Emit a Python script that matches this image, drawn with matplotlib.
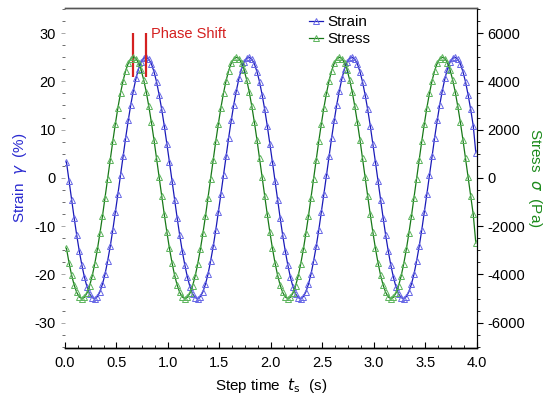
import numpy as np
import matplotlib
matplotlib.use('Agg')
import matplotlib.pyplot as plt
from matplotlib.ticker import MultipleLocator

plt.rcParams['font.family'] = ['Liberation Sans', 'DejaVu Sans']
plt.rcParams['mathtext.fontset'] = 'dejavusans'
plt.rcParams['axes.unicode_minus'] = False

# sampling of the step time (s)
t_start = 0.015
t_step = 0.025

# strain (%), one line per cycle
strain = [
    3.3, -0.6, -4.5, -8.3, -11.9, -15.2, -18.1, -20.6, -22.6, -24.0,
    -24.8, -25.0, -24.6, -23.6, -22.0, -19.9, -17.2, -14.2, -10.8, -7.1,
    -3.3, 0.6, 4.5, 8.3, 11.9, 15.2, 18.1, 20.6, 22.6, 24.0,
    24.8, 25.0, 24.6, 23.6, 22.0, 19.9, 17.2, 14.2, 10.8, 7.1,
    3.3, -0.6, -4.5, -8.3, -11.9, -15.2, -18.1, -20.6, -22.6, -24.0,
    -24.8, -25.0, -24.6, -23.6, -22.0, -19.9, -17.2, -14.2, -10.8, -7.1,
    -3.3, 0.6, 4.5, 8.3, 11.9, 15.2, 18.1, 20.6, 22.6, 24.0,
    24.8, 25.0, 24.6, 23.6, 22.0, 19.9, 17.2, 14.2, 10.8, 7.1,
    3.3, -0.6, -4.5, -8.3, -11.9, -15.2, -18.1, -20.6, -22.6, -24.0,
    -24.8, -25.0, -24.6, -23.6, -22.0, -19.9, -17.2, -14.2, -10.8, -7.1,
    -3.3, 0.6, 4.5, 8.3, 11.9, 15.2, 18.1, 20.6, 22.6, 24.0,
    24.8, 25.0, 24.6, 23.6, 22.0, 19.9, 17.2, 14.2, 10.8, 7.1,
    3.3, -0.6, -4.5, -8.3, -11.9, -15.2, -18.1, -20.6, -22.6, -24.0,
    -24.8, -25.0, -24.6, -23.6, -22.0, -19.9, -17.2, -14.2, -10.8, -7.1,
    -3.3, 0.6, 4.5, 8.3, 11.9, 15.2, 18.1, 20.6, 22.6, 24.0,
    24.8, 25.0, 24.6, 23.6, 22.0, 19.9, 17.2, 14.2, 10.8, 5.2,
]

# stress (Pa)
stress = [
    -2914, -3513, -4027, -4441, -4745, -4933, -5000, -4943, -4765, -4469,
    -4064, -3558, -2964, -2298, -1575, -813, -31, 751, 1515, 2242,
    2914, 3513, 4027, 4441, 4745, 4933, 5000, 4943, 4765, 4469,
    4064, 3558, 2964, 2298, 1575, 813, 31, -751, -1515, -2242,
    -2914, -3513, -4027, -4441, -4745, -4933, -5000, -4943, -4765, -4469,
    -4064, -3558, -2964, -2298, -1575, -813, -31, 751, 1515, 2242,
    2914, 3513, 4027, 4441, 4745, 4933, 5000, 4943, 4765, 4469,
    4064, 3558, 2964, 2298, 1575, 813, 31, -751, -1515, -2242,
    -2914, -3513, -4027, -4441, -4745, -4933, -5000, -4943, -4765, -4469,
    -4064, -3558, -2964, -2298, -1575, -813, -31, 751, 1515, 2242,
    2914, 3513, 4027, 4441, 4745, 4933, 5000, 4943, 4765, 4469,
    4064, 3558, 2964, 2298, 1575, 813, 31, -751, -1515, -2242,
    -2914, -3513, -4027, -4441, -4745, -4933, -5000, -4943, -4765, -4469,
    -4064, -3558, -2964, -2298, -1575, -813, -31, 751, 1515, 2242,
    2914, 3513, 4027, 4441, 4745, 4933, 5000, 4943, 4765, 4469,
    4064, 3558, 2964, 2298, 1575, 813, 31, -751, -1515, -2700,
]

# peaks marked as "Phase Shift"
peak_stress_t = 0.66
peak_strain_t = 0.787

t = t_start + t_step * np.arange(len(strain))

blue_line, blue_mark = '#1a1ab8', '#6767e6'
green_line, green_mark = '#187818', '#5cb45c'

fig = plt.figure(figsize=(5.5, 3.98), dpi=100)
ax = fig.add_axes([0.118, 0.126, 0.749, 0.854])
ax2 = ax.twinx()

l1, = ax.plot(t, strain, '-', color=blue_line, lw=0.9,
              marker='^', ms=4, mfc='none', mec=blue_mark, mew=0.7)
l2, = ax2.plot(t, stress, '-', color=green_line, lw=0.9,
               marker='^', ms=4, mfc='none', mec=green_mark, mew=0.7)

ax.set_xlim(0, 4.0)
ax.set_ylim(-35.2, 35.2)
ax2.set_ylim(-7040, 7040)

ax.xaxis.set_major_locator(MultipleLocator(0.5))
ax.xaxis.set_minor_locator(MultipleLocator(0.125))
ax.yaxis.set_major_locator(MultipleLocator(10))
ax.yaxis.set_minor_locator(MultipleLocator(2.5))
ax2.yaxis.set_major_locator(MultipleLocator(2000))
ax2.yaxis.set_minor_locator(MultipleLocator(500))

ax.tick_params(axis='x', which='major', direction='in', length=4, width=0.8,
               labelsize=10.5, pad=6)
ax.tick_params(axis='x', which='minor', direction='in', length=2, width=0.6)
ax.tick_params(axis='y', which='major', direction='out', length=3, width=0.6,
               color='#999999', labelsize=10.5)
ax.tick_params(axis='y', which='minor', direction='out', length=2, width=0.6,
               color='#555555')
ax2.tick_params(axis='y', which='major', direction='out', length=4, width=0.8,
                labelsize=10.5)
ax2.tick_params(axis='y', which='minor', direction='out', length=2, width=0.6)

for a in (ax, ax2):
    a.spines['left'].set_visible(False)
    a.spines['top'].set_color('#555555')
    a.spines['top'].set_linewidth(1.0)
    a.spines['bottom'].set_linewidth(1.0)
    a.spines['right'].set_linewidth(0.8)

ax.set_ylabel(r'Strain  $\gamma$  (%)', color='#2a2ad0', fontsize=11, labelpad=4)
ax2.set_ylabel(r'Stress  $\sigma$  (Pa)', color='#1b8a1b', fontsize=11,
               rotation=270, labelpad=14)
ax.set_xlabel(r'Step time  $t_{\rm s}$  (s)', fontsize=11, labelpad=4)

# phase shift markers
ax.vlines([peak_stress_t, peak_strain_t], 21.0, 30.0, color='#d42020', lw=1.6,
          zorder=5)
ax.text(peak_strain_t + 0.05, 29.8, 'Phase Shift', color='#d42020', fontsize=10.5,
        va='center', ha='left')

leg = ax2.legend([l1, l2], ['Strain', 'Stress'], loc='upper left',
                 bbox_to_anchor=(0.56, 1.02), frameon=False, fontsize=11,
                 handlelength=0.9, handletextpad=0.3, labelspacing=0.2)

fig.savefig('out.png', dpi=100)
